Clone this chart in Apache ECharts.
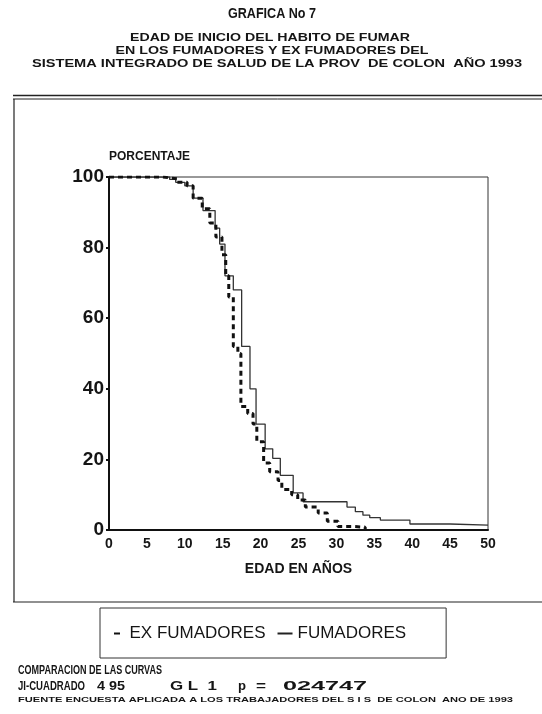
<!DOCTYPE html>
<html>
<head>
<meta charset="utf-8">
<title>Grafica No 7</title>
<script src="https://cdn.jsdelivr.net/npm/echarts@6/dist/echarts.min.js"></script>
<style>
  html, body { margin: 0; padding: 0; background: #fff; }
  #chart { width: 542px; height: 714px; }
</style>
</head>
<body>
<div id="chart"></div>
<script>
// curvas de "supervivencia" (edad en años, porcentaje)
const edadFumadores = [0, 8.0, 8.8, 10.0, 11.1, 12.4, 14.0, 14.6, 15.3, 16.4, 17.5, 18.6, 19.4, 20.6, 21.6, 22.6, 24.3, 25.6, 31.4, 32.5, 33.5, 34.4, 35.8, 39.7, 45.0, 50];
const pctFumadores = [100, 99.3, 98.5, 97.5, 94, 90.5, 85.5, 81, 72, 68, 52, 40, 30, 23, 20.3, 15.5, 10.5, 8, 6.5, 5.2, 4.2, 3.5, 2.8, 1.7, 1.4, 1.4];

const edadEx = [0, 7.1, 9.0, 10.3, 11.1, 12.3, 13.3, 14.1, 14.9, 15.4, 15.8, 16.4, 17.0, 17.4, 18.3, 19.0, 19.5, 20.4, 21.2, 22.3, 22.8, 24.1, 24.9, 25.9, 27.6, 28.8, 30.2, 32.2, 33.8];
const pctEx = [100, 99.5, 98.5, 97.5, 94, 91, 87, 83, 78, 72, 66, 52, 50, 35, 33, 30, 25, 19, 16.5, 14, 11.5, 10, 8.5, 6.5, 4.8, 2.5, 1, 0.8, 0];

const FONT = '"Liberation Sans", Arial, sans-serif';
const INK = '#151515';

// mide el texto para ajustarlo al ancho que tiene en la lamina
const measureCtx = document.createElement('canvas').getContext('2d');
function fitText(text, x, y, size, width, align) {
  measureCtx.font = 'bold ' + size + 'px ' + FONT;
  const w = measureCtx.measureText(text).width;
  return {
    type: 'text',
    x: x,
    y: y,
    scaleX: width / w,
    style: {
      text: text,
      fill: INK,
      font: 'bold ' + size + 'px ' + FONT,
      textAlign: align || 'center',
      textVerticalAlign: 'middle'
    }
  };
}

function hline(y, x1, x2, w) {
  return { type: 'line', shape: { x1: x1, y1: y, x2: x2, y2: y }, style: { stroke: '#222', lineWidth: w } };
}

const chart = echarts.init(document.getElementById('chart'));

const option = {
  backgroundColor: '#fff',
  animation: false,
  grid: {
    left: 109,
    top: 177,
    width: 379,
    height: 353,
    show: true,
    borderColor: '#333',
    borderWidth: 1,
    backgroundColor: 'transparent'
  },
  xAxis: {
    type: 'value',
    min: 0,
    max: 50,
    interval: 5,
    name: 'EDAD EN AÑOS',
    nameLocation: 'middle',
    nameGap: 32,
    nameTextStyle: { fontFamily: FONT, fontWeight: 'bold', fontSize: 14, color: INK },
    axisLine: { lineStyle: { color: '#111', width: 2 } },
    axisTick: { show: false },
    splitLine: { show: false },
    axisLabel: { fontFamily: FONT, fontWeight: 'bold', fontSize: 14, color: INK, margin: 7 }
  },
  yAxis: {
    type: 'value',
    min: 0,
    max: 100,
    interval: 20,
    name: 'PORCENTAJE',
    nameLocation: 'end',
    nameGap: 14,
    nameTextStyle: { fontFamily: FONT, fontWeight: 'bold', fontSize: 12, color: INK, align: 'left' },
    axisLine: { show: true, lineStyle: { color: '#111', width: 2 } },
    axisTick: { show: true, length: 3, lineStyle: { color: '#111', width: 2 } },
    splitLine: { show: false },
    axisLabel: { fontFamily: FONT, fontWeight: 'bold', fontSize: 19, color: INK, margin: 5 }
  },
  legend: {
    left: 100,
    top: 608,
    itemGap: 12,
    itemWidth: 15,
    itemHeight: 2,
    padding: [17, 40, 16, 14],
    borderColor: '#333',
    borderWidth: 1,
    textStyle: { fontFamily: FONT, fontSize: 17, color: INK },
    data: [
      { name: 'EX FUMADORES', icon: 'path://M0,0h6v2h-6z' },
      { name: 'FUMADORES', icon: 'path://M0,0h15v2h-15z' }
    ]
  },
  series: [
    {
      name: 'FUMADORES',
      type: 'line',
      step: 'end',
      showSymbol: false,
      itemStyle: { color: '#222' },
      lineStyle: { color: '#333', width: 1.3 },
      data: edadFumadores.map((e, i) => [e, pctFumadores[i]])
    },
    {
      name: 'EX FUMADORES',
      type: 'line',
      step: 'end',
      showSymbol: false,
      itemStyle: { color: '#111' },
      lineStyle: { color: '#111', width: 3, type: [5, 4] },
      data: edadEx.map((e, i) => [e, pctEx[i]])
    }
  ],
  graphic: [
    fitText('GRAFICA No 7', 272, 14, 14, 88),
    fitText('EDAD DE INICIO DEL HABITO DE FUMAR', 270, 37.5, 11.5, 280),
    fitText('EN LOS FUMADORES Y EX FUMADORES DEL', 272, 51, 11.5, 313),
    fitText('SISTEMA INTEGRADO DE SALUD DE LA PROV  DE COLON  AÑO 1993', 277, 64, 11.5, 490),
    // marco
    hline(95.5, 13, 542, 1.5),
    hline(99, 13, 542, 1),
    hline(602, 13, 542, 1.2),
    { type: 'line', shape: { x1: 14, y1: 99, x2: 14, y2: 602 }, style: { stroke: '#222', lineWidth: 1.2 } },
    // pie
    fitText('COMPARACION DE LAS CURVAS', 18, 671, 12.5, 144, 'left'),
    fitText('JI-CUADRADO', 18, 687, 12, 67, 'left'),
    fitText('4 95', 97, 687, 12, 28, 'left'),
    fitText('G L  1', 170, 687, 12, 47, 'left'),
    fitText('p', 238, 687, 12, 8, 'left'),
    fitText('=', 256, 687, 12, 10, 'left'),
    fitText('024747', 283, 687, 12, 84, 'left'),
    fitText('FUENTE ENCUESTA APLICADA A LOS TRABAJADORES DEL S I S  DE COLON  ANO DE 1993', 18, 700, 8, 495, 'left')
  ]
};

chart.setOption(option);
</script>
</body>
</html>
